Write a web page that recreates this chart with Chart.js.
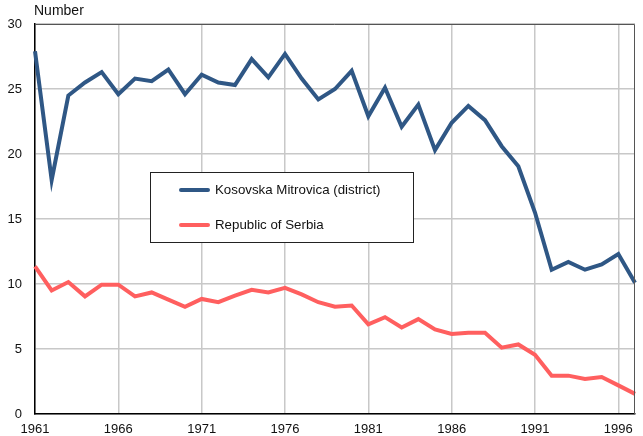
<!DOCTYPE html>
<html>
<head>
<meta charset="utf-8">
<script src="https://cdn.jsdelivr.net/npm/chart.js@4.4.1/dist/chart.umd.min.js"></script>
<style>
  html, body { margin: 0; padding: 0; background: #fff; }
  #wrap { width: 643px; height: 436px; position: relative; }
</style>
</head>
<body>
<div id="wrap"><canvas id="chart" width="643" height="436"></canvas></div>
<script>
var years = [];
for (var y = 1961; y <= 1997; y++) years.push(y);

var kosovska = [27.9, 18.0, 24.5, 25.5, 26.3, 24.6, 25.8, 25.6, 26.5, 24.6,
  26.1, 25.5, 25.3, 27.3, 25.9, 27.7, 25.8, 24.2, 25.0, 26.4,
  22.9, 25.1, 22.1, 23.8, 20.3, 22.4, 23.7, 22.6, 20.6, 19.05,
  15.5, 11.1, 11.7, 11.1, 11.5, 12.3, 10.1];

var serbia = [11.35, 9.5, 10.15, 9.05, 9.95, 9.95, 9.05, 9.35, 8.8, 8.25,
  8.85, 8.6, 9.1, 9.55, 9.35, 9.7, 9.2, 8.6, 8.25, 8.35,
  6.9, 7.45, 6.65, 7.3, 6.5, 6.15, 6.25, 6.25, 5.1, 5.35,
  4.55, 2.95, 2.95, 2.7, 2.85, 2.2, 1.55];

var seriesNames = ['Kosovska Mitrovica (district)', 'Republic of Serbia'];
var seriesColors = ['#2f5785', '#ff5f5f'];
var yTicks = [0, 5, 10, 15, 20, 25, 30];

var FONT = 'Arial, "Liberation Sans", sans-serif';

// frame (top/right grey border) + legend box inside the plot
var extras = {
  id: 'extras',
  afterDraw: function (chart) {
    var ctx = chart.ctx, a = chart.chartArea;
    ctx.save();
    ctx.strokeStyle = '#555';
    ctx.lineWidth = 1;
    ctx.beginPath();
    ctx.moveTo(a.left, a.top + 0.5);
    ctx.lineTo(a.right - 0.5, a.top + 0.5);
    ctx.lineTo(a.right - 0.5, a.bottom);
    ctx.stroke();

    // "Number" axis caption
    ctx.fillStyle = '#111';
    ctx.font = '14px ' + FONT;
    ctx.textBaseline = 'alphabetic';
    ctx.fillText('Number', 34, 15);

    // legend
    var bx = 150.5, by = 172.5, bw = 263, bh = 70;
    ctx.fillStyle = '#fff';
    ctx.fillRect(bx, by, bw, bh);
    ctx.strokeStyle = '#222';
    ctx.strokeRect(bx, by, bw, bh);
    ctx.lineCap = 'round';
    ctx.textBaseline = 'middle';
    ctx.font = '13.3px ' + FONT;
    chart.data.datasets.forEach(function (ds, i) {
      var ly = 190 + i * 35;
      ctx.strokeStyle = ds.borderColor;
      ctx.lineWidth = 4;
      ctx.beginPath();
      ctx.moveTo(181, ly);
      ctx.lineTo(208, ly);
      ctx.stroke();
      ctx.fillStyle = '#111';
      ctx.fillText(ds.label, 215, ly);
    });
    ctx.restore();
  }
};

new Chart(document.getElementById('chart').getContext('2d'), {
  type: 'line',
  data: {
    labels: years,
    datasets: [
      { label: seriesNames[0], data: kosovska, borderColor: seriesColors[0], borderWidth: 4, pointRadius: 0, tension: 0 },
      { label: seriesNames[1], data: serbia, borderColor: seriesColors[1], borderWidth: 4, pointRadius: 0, tension: 0 }
    ]
  },
  options: {
    responsive: false,
    animation: false,
    layout: { padding: { top: 24, right: 5, left: 0, bottom: 0 } },
    plugins: { legend: { display: false }, tooltip: { enabled: false } },
    scales: {
      x: {
        type: 'category',
        offset: false,
        afterFit: function (s) { s.height = 22; },
        border: { color: '#000', width: 1.5 },
        grid: {
          drawTicks: false,
          color: function (c) { return (c.index % 5 === 0) ? '#c8c8c8' : 'rgba(0,0,0,0)'; },
          lineWidth: 1.5
        },
        ticks: {
          autoSkip: false,
          maxRotation: 0,
          padding: 8,
          color: '#111',
          font: { family: FONT, size: 13 },
          callback: function (v, i) { return (i % 5 === 0) ? years[i] : ''; }
        }
      },
      y: {
        min: 0,
        max: 30,
        afterFit: function (s) { s.width = 35; },
        afterBuildTicks: function (s) { s.ticks = yTicks.map(function (v) { return { value: v }; }); },
        border: { color: '#000', width: 1.5 },
        grid: { drawTicks: false, color: '#c8c8c8', lineWidth: 1.5 },
        ticks: {
          padding: 13,
          color: '#111',
          font: { family: FONT, size: 13 }
        }
      }
    }
  },
  plugins: [extras]
});
</script>
</body>
</html>
